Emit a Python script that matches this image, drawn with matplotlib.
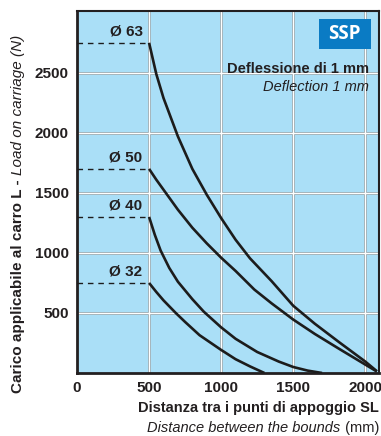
import numpy as np
import matplotlib
matplotlib.use("Agg")
import matplotlib.pyplot as plt
from matplotlib.patches import Rectangle

plt.rcParams['font.family'] = ['Liberation Sans', 'DejaVu Sans']

# Curve (distanza SL in mm, carico in N)
diametri = ["Ø 63", "Ø 50", "Ø 40", "Ø 32"]
x_63 = [500, 550, 600, 700, 800, 900, 1000, 1100, 1200, 1350, 1500, 1650, 1820, 2000, 2080]
y_63 = [2750, 2490, 2290, 1970, 1700, 1485, 1290, 1110, 955, 765, 560, 410, 255, 95, 15]
x_50 = [500, 550, 616, 700, 800, 900, 1000, 1100, 1230, 1350, 1500, 1650, 1820, 2000, 2080]
y_50 = [1700, 1610, 1500, 1360, 1210, 1080, 960, 850, 695, 580, 445, 325, 200, 70, 12]
x_40 = [500, 540, 580, 640, 700, 800, 880, 1000, 1100, 1250, 1400, 1500, 1600, 1700]
y_40 = [1300, 1150, 1020, 875, 760, 615, 510, 380, 285, 175, 95, 50, 20, 0]
x_32 = [500, 550, 600, 685, 750, 850, 1000, 1100, 1200, 1300]
y_32 = [750, 675, 605, 500, 425, 315, 192, 115, 55, 0]

curve = [(x_63, y_63), (x_50, y_50), (x_40, y_40), (x_32, y_32)]
x_ticks = [0, 500, 1000, 1500, 2000]
y_ticks = [500, 1000, 1500, 2000, 2500]

fig = plt.figure(figsize=(3.81, 4.36), dpi=100)
ax = fig.add_axes([0.2021, 0.1445, 0.7927, 0.8303])
ax.set_facecolor('#aadff7')
ax.set_xlim(0, 2095)
ax.set_ylim(0, 3015)

# griglia bianca con bordo grigio
for gx in x_ticks[1:]:
    ax.axvline(gx, color='#8e9ea6', lw=2.0, zorder=1)
    ax.axvline(gx, color='white', lw=1.0, zorder=1.1)
for gy in y_ticks:
    ax.axhline(gy, color='#8e9ea6', lw=2.0, zorder=1)
    ax.axhline(gy, color='white', lw=1.0, zorder=1.1)

for nome, (xs, ys) in zip(diametri, curve):
    ax.plot(xs, ys, color='#1c1c1c', lw=1.9, zorder=3, solid_capstyle='butt',
            solid_joinstyle='round')
    ax.plot([0, xs[0]], [ys[0], ys[0]], color='#1c1c1c', lw=1.0,
            linestyle=(0, (4, 3.5)), zorder=3)
    ax.text(455, ys[0] + 40, nome, ha='right', va='bottom', fontsize=11,
            fontweight='bold', color='#231f20', zorder=4)

ax.set_xticks(x_ticks)
ax.set_yticks(y_ticks)
ax.set_xticklabels([str(v) for v in x_ticks], fontsize=11, fontweight='bold', color='#231f20')
ax.set_yticklabels([str(v) for v in y_ticks], fontsize=11, fontweight='bold', color='#231f20')
ax.tick_params(length=0, pad=6)
for s in ax.spines.values():
    s.set_color('#231f20')
    s.set_linewidth(1.5)
ax.spines['left'].set_linewidth(2)
ax.spines['bottom'].set_linewidth(2)

# riquadro SSP
ax.add_patch(Rectangle((0.8, 0.895), 0.172, 0.083, transform=ax.transAxes,
                       facecolor='#0a7bc4', edgecolor='none', zorder=5))
ax.text(0.886, 0.937, "SSP", transform=ax.transAxes, ha='center', va='center',
        fontsize=13.5, fontweight='bold', color='white', family=['Open Sans', 'DejaVu Sans'], zorder=6)

ax.text(0.968, 0.84, "Deflessione di 1 mm", transform=ax.transAxes, ha='right',
        va='center', fontsize=10.5, fontweight='bold', color='#231f20', zorder=4)
ax.text(0.968, 0.79, "Deflection 1 mm", transform=ax.transAxes, ha='right',
        va='center', fontsize=10.5, style='italic', color='#231f20', zorder=4)

# etichette assi (grassetto + corsivo)
fig.canvas.draw()
r = fig.canvas.get_renderer()
H = fig.bbox.height
W = fig.bbox.width

# etichetta y centrata verticalmente come nell'originale
t1 = fig.text(0.047, 0.0, "Carico applicabile al carro L - ", rotation=90,
              ha='center', va='bottom', fontsize=11, fontweight='bold', color='#231f20')
t1b = fig.text(0.047, 0.0, "Load on carriage (N)", rotation=90, ha='center',
               va='bottom', fontsize=11, style='italic', color='#231f20')
h1 = t1.get_window_extent(r).height
h2 = t1b.get_window_extent(r).height
y0 = 0.509 * H - (h1 + h2) / 2
t1.set_y(y0 / H)
t1b.set_y((y0 + h1) / H)

fig.text(0.9948, 0.0642, "Distanza tra i punti di appoggio SL", ha='right',
         va='center', fontsize=10.5, fontweight='bold', color='#231f20')
t2 = fig.text(0.9948, 0.0183, " (mm)", ha='right', va='center', fontsize=10.5,
              color='#231f20')
bb2 = t2.get_window_extent(r)
fig.text(bb2.x0 / W, 0.0183, "Distance between the bounds", ha='right',
         va='center', fontsize=10.5, style='italic', color='#231f20')

fig.savefig("out.png", dpi=100)
